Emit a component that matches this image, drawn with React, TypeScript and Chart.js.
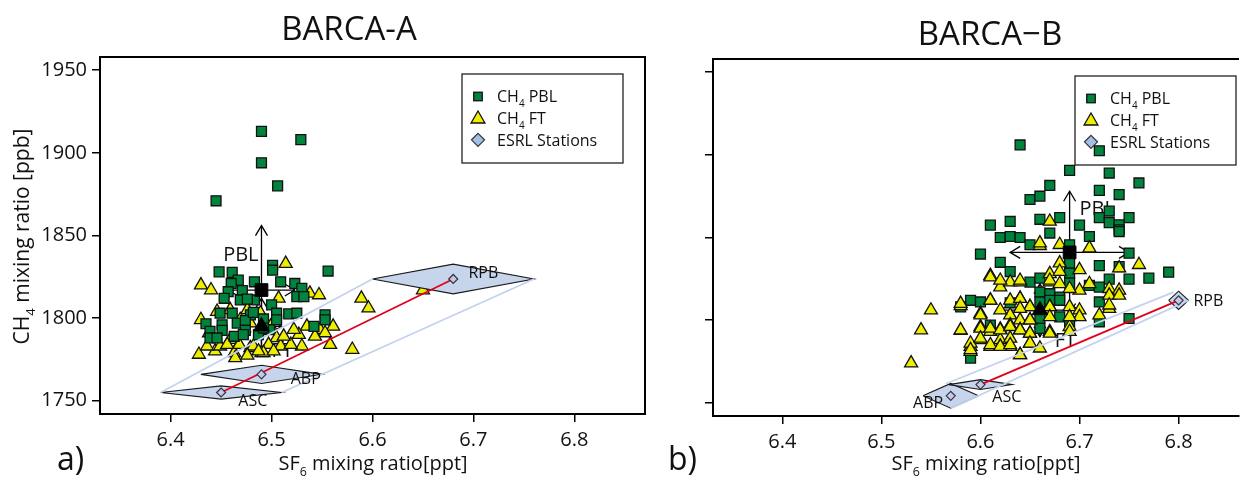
import React, { useEffect, useRef } from 'react';
import { Chart, registerables } from 'chart.js';

Chart.register(...registerables);

const FONT = '"Open Sans", "DejaVu Sans", sans-serif';
const GREEN = '#00833d';
const YELLOW = '#eeee00';
const STATION_FILL = '#c6d4ec';
const ENVELOPE = '#c3d2ee';
const RED = '#e2001a';
const PAGE_H = 478;

// ---- axes ----
const xTicks = [6.4, 6.5, 6.6, 6.7, 6.8];
const yTicks = [1750, 1800, 1850, 1900, 1950];
const X_MIN = 6.33;
const Y_MIN = 1742;
const Y_MAX = 1958;

const stationNames = ['ASC', 'ABP', 'RPB'];

// ---- BARCA-A : [SF6 ppt, CH4 ppb] ----
const pblA: number[][] = [
  [6.445, 1871], [6.49, 1913], [6.49, 1894], [6.506, 1880], [6.529, 1908],
  [6.448, 1828], [6.461, 1827.7], [6.501, 1832], [6.501, 1829], [6.556, 1828.5],
  [6.467, 1823], [6.46, 1821], [6.483, 1822], [6.509, 1822], [6.523, 1821], [6.53, 1818],
  [6.457, 1816], [6.471, 1816.7], [6.453, 1812], [6.469, 1811], [6.483, 1811], [6.5, 1808], [6.525, 1813], [6.532, 1813],
  [6.449, 1803], [6.461, 1803], [6.479, 1802], [6.505, 1803], [6.517, 1802.6], [6.525, 1803], [6.553, 1802],
  [6.435, 1796.6], [6.451, 1796], [6.466, 1797], [6.474, 1798.6], [6.505, 1799], [6.553, 1799], [6.542, 1795],
  [6.439, 1792], [6.451, 1792.6], [6.474, 1792.6], [6.439, 1788], [6.446, 1788], [6.463, 1789], [6.487, 1790],
  [6.498, 1793], [6.476, 1811.5], [6.482, 1803.5], [6.492, 1799.5], [6.472, 1790], [6.492, 1794],
];
const ftA: number[][] = [
  [6.514, 1833], [6.43, 1820], [6.44, 1817], [6.538, 1815], [6.547, 1814], [6.507, 1812], [6.589, 1812],
  [6.596, 1806], [6.459, 1805], [6.476, 1805], [6.43, 1799], [6.535, 1795], [6.561, 1795], [6.548, 1793],
  [6.553, 1791], [6.438, 1791], [6.505, 1788], [6.527, 1790], [6.459, 1787], [6.543, 1789], [6.558, 1784],
  [6.53, 1783], [6.58, 1781], [6.428, 1778], [6.444, 1780], [6.463, 1779], [6.49, 1779], [6.479, 1782],
  [6.509, 1783], [6.519, 1784], [6.449, 1783], [6.468, 1784], [6.497, 1784], [6.464, 1776], [6.65, 1817],
  [6.446, 1804], [6.469, 1799], [6.479, 1797], [6.489, 1803], [6.499, 1795], [6.512, 1789], [6.522, 1793],
  [6.436, 1783], [6.456, 1784], [6.482, 1783], [6.492, 1779], [6.502, 1780], [6.476, 1777.5], [6.487, 1780],
];
const stationA_sf6 = [6.45, 6.49, 6.68];
const stationA_ch4 = [1755, 1766, 1823.7];
const stationA_dsf6 = [0.06, 0.06, 0.08];
const stationA_dch4 = [4, 5.5, 9];
const stationA_label = [[6.467, 1747], [6.519, 1760], [6.695, 1824.3]];
const envelopeA = [
  [[6.39, 1755], [6.6, 1823.7]],
  [[6.51, 1755], [6.76, 1823.7]],
];
const meanA = [[6.49, 1817], [6.49, 1795]]; // PBL, FT
const meanA_dsf6 = [0.033, 0.02];
const meanA_dch4 = [39, 17];
const groupLabelA = [[6.452, 1834.3], [6.5, 1776.3]]; // PBL, FT

// ---- BARCA-B ----
const pblB: number[][] = [
  [6.64, 1906], [6.72, 1902.5], [6.69, 1890.6], [6.73, 1889], [6.76, 1883], [6.67, 1881.5], [6.72, 1878.5],
  [6.74, 1876], [6.65, 1873], [6.66, 1875], [6.73, 1866], [6.75, 1862], [6.72, 1862], [6.73, 1859],
  [6.74, 1857.7], [6.74, 1854.7], [6.66, 1861], [6.68, 1862], [6.7, 1857.5], [6.61, 1857.5], [6.63, 1859.7],
  [6.67, 1852.7], [6.62, 1850], [6.63, 1850.6], [6.64, 1850], [6.71, 1850.6], [6.74, 1853.6], [6.65, 1845.6],
  [6.69, 1845.6], [6.75, 1840.5], [6.6, 1840], [6.62, 1835], [6.63, 1829.4], [6.69, 1834.5], [6.72, 1833],
  [6.74, 1832.4], [6.79, 1829], [6.77, 1825.4], [6.75, 1824.8], [6.73, 1824.8], [6.65, 1823], [6.66, 1825.4],
  [6.69, 1828.4], [6.69, 1822.4], [6.71, 1821], [6.72, 1820], [6.66, 1817], [6.67, 1816], [6.68, 1814],
  [6.66, 1811], [6.59, 1812], [6.6, 1811], [6.58, 1808], [6.63, 1810.5], [6.67, 1812], [6.68, 1812],
  [6.72, 1811], [6.68, 1802], [6.66, 1801], [6.66, 1795], [6.75, 1801], [6.72, 1799], [6.59, 1777],
  [6.69, 1799], [6.61, 1797],
];
const ftB: number[][] = [
  [6.67, 1859.7], [6.55, 1806], [6.54, 1794], [6.53, 1774], [6.58, 1793.6], [6.58, 1808.6], [6.59, 1784],
  [6.59, 1781], [6.6, 1788], [6.6, 1796], [6.61, 1827], [6.62, 1820], [6.61, 1812], [6.6, 1804], [6.61, 1793],
  [6.61, 1784], [6.62, 1794.5], [6.62, 1788], [6.62, 1784], [6.63, 1823], [6.63, 1803], [6.63, 1797],
  [6.63, 1789], [6.63, 1784], [6.64, 1823], [6.64, 1813], [6.64, 1800], [6.64, 1794], [6.64, 1779],
  [6.65, 1808], [6.65, 1800], [6.65, 1792], [6.65, 1786], [6.66, 1845], [6.67, 1828], [6.67, 1823],
  [6.67, 1808], [6.67, 1793], [6.66, 1846.6], [6.68, 1845.6], [6.71, 1843.6], [6.76, 1833.5], [6.74, 1831.5],
  [6.68, 1834.5], [6.7, 1830.4], [6.68, 1829.4], [6.61, 1826], [6.62, 1824], [6.64, 1824], [6.67, 1824],
  [6.68, 1822], [6.71, 1822], [6.73, 1819], [6.74, 1818], [6.73, 1815], [6.74, 1815], [6.7, 1818],
  [6.69, 1819], [6.61, 1812], [6.63, 1812], [6.64, 1813], [6.65, 1808], [6.67, 1808], [6.69, 1808],
  [6.7, 1806], [6.73, 1807], [6.58, 1794], [6.58, 1810], [6.6, 1803], [6.62, 1806], [6.64, 1807],
  [6.6, 1795], [6.61, 1795], [6.62, 1794], [6.63, 1796], [6.64, 1794], [6.65, 1800], [6.65, 1792],
  [6.67, 1792], [6.69, 1796], [6.69, 1793], [6.67, 1802], [6.7, 1802], [6.72, 1803], [6.73, 1809],
  [6.59, 1786], [6.59, 1782], [6.6, 1789], [6.61, 1785], [6.62, 1784], [6.63, 1785], [6.65, 1786],
  [6.64, 1779], [6.66, 1783], [6.69, 1802],
];
const stationB_sf6 = [6.6, 6.57, 6.8];
const stationB_ch4 = [1761, 1754.2, 1812];
const stationB_dsf6 = [0.032, 0.028, 0.01];
const stationB_dch4 = [3, 7.5, 5.5];
const stationB_label = [[6.612, 1750.6], [6.532, 1746.6], [6.815, 1808.6]];
const envelopeB = [
  [[6.565, 1761.5], [6.795, 1817]],
  [[6.57, 1746.7], [6.81, 1812]],
];
const meanB = [[6.69, 1841], [6.66, 1806]];
const meanB_dsf6 = [0.06, 0.04];
const meanB_dch4 = [37, 16];
const groupLabelB = [[6.7, 1863.8], [6.675, 1784]];

type Part = [string, boolean?];

function drawRich(ctx: CanvasRenderingContext2D, parts: Part[], x: number, y: number, size: number, align: 'left' | 'center') {
  const sub = size * 0.62;
  let total = 0;
  const widths = parts.map(([t, s]) => {
    ctx.font = `${s ? sub : size}px ${FONT}`;
    const w = ctx.measureText(t).width;
    total += w;
    return w;
  });
  let cx = align === 'center' ? x - total / 2 : x;
  ctx.textAlign = 'left';
  ctx.textBaseline = 'alphabetic';
  parts.forEach(([t, s], i) => {
    ctx.font = `${s ? sub : size}px ${FONT}`;
    ctx.fillText(t, cx, s ? y + size * 0.3 : y);
    cx += widths[i];
  });
}

function arrowHead(ctx: CanvasRenderingContext2D, x: number, y: number, dir: string, len = 10, half = 6) {
  ctx.beginPath();
  if (dir === 'up') { ctx.moveTo(x - half, y + len); ctx.lineTo(x, y); ctx.lineTo(x + half, y + len); }
  if (dir === 'down') { ctx.moveTo(x - half, y - len); ctx.lineTo(x, y); ctx.lineTo(x + half, y - len); }
  if (dir === 'left') { ctx.moveTo(x + len, y - half); ctx.lineTo(x, y); ctx.lineTo(x + len, y + half); }
  if (dir === 'right') { ctx.moveTo(x - len, y - half); ctx.lineTo(x, y); ctx.lineTo(x - len, y + half); }
  ctx.stroke();
}

function legendSquare(ctx: CanvasRenderingContext2D, x: number, y: number, s: number) {
  ctx.fillStyle = GREEN; ctx.fillRect(x - s / 2, y - s / 2, s, s);
  ctx.strokeStyle = '#111'; ctx.lineWidth = 1.3; ctx.strokeRect(x - s / 2, y - s / 2, s, s);
}
function legendTriangle(ctx: CanvasRenderingContext2D, x: number, y: number, r: number) {
  ctx.beginPath();
  ctx.moveTo(x, y - r); ctx.lineTo(x + r * 0.866, y + r / 2); ctx.lineTo(x - r * 0.866, y + r / 2); ctx.closePath();
  ctx.fillStyle = YELLOW; ctx.fill(); ctx.strokeStyle = '#111'; ctx.lineWidth = 1.3; ctx.stroke();
}
function legendDiamond(ctx: CanvasRenderingContext2D, x: number, y: number, r: number) {
  ctx.beginPath();
  ctx.moveTo(x, y - r); ctx.lineTo(x + r, y); ctx.lineTo(x, y + r); ctx.lineTo(x - r, y); ctx.closePath();
  ctx.fillStyle = '#a3bfe4'; ctx.fill(); ctx.strokeStyle = '#333'; ctx.lineWidth = 1.2; ctx.stroke();
}

interface PanelSpec {
  id: string;
  left: number;
  width: number;
  area: { left: number; top: number; right: number; bottom: number };
  xMax: number;
  yLabels: boolean;
  rightBorder: boolean;
  title: string; titleX: number; titleY: number;
  letter: string; letterX: number;
  xTitleX: number;
  yTitle: boolean;
  pbl: number[][]; ft: number[][];
  stSf6: number[]; stCh4: number[]; stDsf6: number[]; stDch4: number[]; stLabel: number[][];
  envelopes: number[][][];
  means: number[][]; meanDsf6: number[]; meanDch4: number[]; groupLabels: number[][];
  squaresOnTop: boolean;
}

const panelA: PanelSpec = {
  id: 'A', left: 0, width: 660,
  area: { left: 100, top: 57, right: 645, bottom: 414 },
  xMax: 6.87, yLabels: true, rightBorder: true,
  title: 'BARCA-A', titleX: 349, titleY: 40,
  letter: 'a)', letterX: 57, xTitleX: 373, yTitle: true,
  pbl: pblA, ft: ftA,
  stSf6: stationA_sf6, stCh4: stationA_ch4, stDsf6: stationA_dsf6, stDch4: stationA_dch4, stLabel: stationA_label,
  envelopes: envelopeA, means: meanA, meanDsf6: meanA_dsf6, meanDch4: meanA_dch4, groupLabels: groupLabelA,
  squaresOnTop: true,
};
const panelB: PanelSpec = {
  id: 'B', left: 660, width: 589,
  area: { left: 53, top: 59, right: 589, bottom: 416 },
  xMax: 6.861, yLabels: false, rightBorder: false,
  title: 'BARCA\u2212B', titleX: 330, titleY: 45,
  letter: 'b)', letterX: 8, xTitleX: 326, yTitle: false,
  pbl: pblB, ft: ftB,
  stSf6: stationB_sf6, stCh4: stationB_ch4, stDsf6: stationB_dsf6, stDch4: stationB_dch4, stLabel: stationB_label,
  envelopes: envelopeB, means: meanB, meanDsf6: meanB_dsf6, meanDch4: meanB_dch4, groupLabels: groupLabelB,
  squaresOnTop: false,
};

function buildConfig(p: PanelSpec): any {
  const toPts = (arr: number[][]) => arr.map(([x, y]) => ({ x, y }));
  const datasets: any[] = [];
  datasets.push({
    type: 'scatter', label: 'ESRL Stations',
    data: p.stSf6.map((x, i) => ({ x, y: p.stCh4[i] })),
    pointStyle: 'rectRot', pointRadius: 4.5, backgroundColor: '#c9c6e6', borderColor: '#333344', borderWidth: 1.2, order: 0,
  });
  datasets.push({
    type: 'line', data: [{ x: p.stSf6[0], y: p.stCh4[0] }, { x: p.stSf6[2], y: p.stCh4[2] }],
    borderColor: RED, borderWidth: 1.8, pointRadius: 0, fill: false, order: 1,
  });
  p.envelopes.forEach((env) => datasets.push({
    type: 'line', data: toPts(env), borderColor: ENVELOPE, borderWidth: 1.8, pointRadius: 0, fill: false, order: 2,
  }));
  p.stSf6.forEach((x, i) => {
    const y = p.stCh4[i], dx = p.stDsf6[i], dy = p.stDch4[i];
    datasets.push({
      type: 'line', label: stationNames[i],
      data: [{ x: x - dx, y }, { x, y: y + dy }, { x: x + dx, y }, { x, y: y - dy }, { x: x - dx, y }],
      borderColor: '#1a1a1a', borderWidth: 1.1, backgroundColor: STATION_FILL, fill: 'shape',
      pointRadius: 0, tension: 0, order: 3,
    });
  });
  datasets.push({
    type: 'scatter', data: [{ x: p.means[0][0], y: p.means[0][1] }],
    pointStyle: 'rect', pointRadius: 9, backgroundColor: '#000', borderColor: '#000', borderWidth: 1, order: 4,
  });
  datasets.push({
    type: 'scatter', data: [{ x: p.means[1][0], y: p.means[1][1] }],
    pointStyle: 'triangle', pointRadius: 9, backgroundColor: '#000', borderColor: '#000', borderWidth: 1, order: 4,
  });
  datasets.push({
    type: 'scatter', label: 'CH4 PBL', data: toPts(p.pbl),
    pointStyle: 'rect', pointRadius: 7, backgroundColor: GREEN, borderColor: '#111', borderWidth: 1.3,
    order: p.squaresOnTop ? 5 : 6,
  });
  datasets.push({
    type: 'scatter', label: 'CH4 FT', data: toPts(p.ft),
    pointStyle: 'triangle', pointRadius: 7.5, backgroundColor: YELLOW, borderColor: '#111', borderWidth: 1.3,
    order: p.squaresOnTop ? 6 : 5,
  });

  const plugin = {
    id: 'decor' + p.id,
    beforeDatasetsDraw(chart: any) {
      const ctx: CanvasRenderingContext2D = chart.ctx;
      const xs = chart.scales.x, ys = chart.scales.y, ca = chart.chartArea;
      ctx.save();
      // legend
      const bx = ca.left + 362, by = ca.top + 17, bw = 161, bh = 89;
      ctx.fillStyle = '#fff'; ctx.fillRect(bx, by, bw, bh);
      ctx.strokeStyle = '#222'; ctx.lineWidth = 1.3; ctx.strokeRect(bx, by, bw, bh);
      const rows = [22.5, 44, 65.8];
      legendSquare(ctx, bx + 16, by + rows[0], 8.5);
      legendTriangle(ctx, bx + 16, by + rows[1] + 1, 8);
      legendDiamond(ctx, bx + 16, by + rows[2], 6.5);
      ctx.fillStyle = '#111';
      drawRich(ctx, [['CH'], ['4', true], [' PBL']], bx + 35, by + rows[0] + 5.8, 16, 'left');
      drawRich(ctx, [['CH'], ['4', true], [' FT']], bx + 35, by + rows[1] + 5.8, 16, 'left');
      drawRich(ctx, [['ESRL Stations']], bx + 35, by + rows[2] + 5.8, 16, 'left');
      // group labels (under the points)
      ctx.fillStyle = '#111';
      drawRich(ctx, [['PBL']], xs.getPixelForValue(p.groupLabels[0][0]), ys.getPixelForValue(p.groupLabels[0][1]), 20, 'left');
      drawRich(ctx, [['FT']], xs.getPixelForValue(p.groupLabels[1][0]), ys.getPixelForValue(p.groupLabels[1][1]), 20, 'left');
      // error arrows
      ctx.strokeStyle = '#000'; ctx.lineWidth = 1.3;
      p.means.forEach(([mx, my], i) => {
        const cx = xs.getPixelForValue(mx), cy = ys.getPixelForValue(my);
        const x0 = xs.getPixelForValue(mx - p.meanDsf6[i]), x1 = xs.getPixelForValue(mx + p.meanDsf6[i]);
        const y0 = ys.getPixelForValue(my - p.meanDch4[i]), y1 = ys.getPixelForValue(my + p.meanDch4[i]);
        ctx.beginPath(); ctx.moveTo(x0, cy); ctx.lineTo(x1, cy); ctx.moveTo(cx, y0); ctx.lineTo(cx, y1); ctx.stroke();
        arrowHead(ctx, x0, cy, 'left'); arrowHead(ctx, x1, cy, 'right');
        arrowHead(ctx, cx, y1, 'up'); arrowHead(ctx, cx, y0, 'down');
      });
      ctx.restore();
    },
    afterDatasetsDraw(chart: any) {
      const ctx: CanvasRenderingContext2D = chart.ctx;
      const xs = chart.scales.x, ys = chart.scales.y, ca = chart.chartArea;
      ctx.save();
      ctx.fillStyle = '#111';
      stationNames.forEach((n, i) => {
        drawRich(ctx, [[n]], xs.getPixelForValue(p.stLabel[i][0]), ys.getPixelForValue(p.stLabel[i][1]), 16, 'left');
      });
      ctx.strokeStyle = '#000'; ctx.lineWidth = 2;
      ctx.beginPath();
      ctx.moveTo(ca.left - 1, ca.top); ctx.lineTo(ca.right, ca.top);
      if (p.rightBorder) ctx.lineTo(ca.right, ca.bottom + 1);
      ctx.stroke();
      ctx.restore();
    },
    afterDraw(chart: any) {
      const ctx: CanvasRenderingContext2D = chart.ctx;
      const ca = chart.chartArea;
      ctx.save();
      ctx.fillStyle = '#111';
      drawRich(ctx, [[p.title]], p.titleX, p.titleY, 33, 'center');
      drawRich(ctx, [[p.letter]], p.letterX, 470, 32, 'left');
      drawRich(ctx, [['SF'], ['6', true], [' mixing ratio[ppt]']], p.xTitleX, 470, 20, 'left' === 'left' ? 'center' : 'center');
      if (p.yTitle) {
        ctx.translate(29, (ca.top + ca.bottom) / 2 + 1);
        ctx.rotate(-Math.PI / 2);
        drawRich(ctx, [['CH'], ['4', true], [' mixing ratio [ppb]']], 0, 0, 21, 'center');
      }
      ctx.restore();
    },
  };

  return {
    type: 'scatter',
    data: { datasets },
    options: {
      animation: false,
      responsive: false,
      events: [],
      layout: { padding: { left: 0, top: p.area.top, right: p.width - p.area.right, bottom: 0 } },
      plugins: { legend: { display: false }, tooltip: { enabled: false }, title: { display: false } },
      scales: {
        x: {
          type: 'linear', min: X_MIN, max: p.xMax,
          afterBuildTicks: (s: any) => { s.ticks = xTicks.map((v) => ({ value: v })); },
          afterFit: (s: any) => { s.height = PAGE_H - p.area.bottom; },
          grid: { drawOnChartArea: false, drawTicks: true, tickLength: 8, color: '#000', lineWidth: 1.5 },
          border: { display: true, color: '#000', width: 2 },
          ticks: {
            color: '#111', font: { family: FONT, size: 20 }, padding: 6, maxRotation: 0, autoSkip: false,
            callback: (v: any) => Number(v).toFixed(1),
          },
        },
        y: {
          type: 'linear', min: Y_MIN, max: Y_MAX,
          afterBuildTicks: (s: any) => { s.ticks = yTicks.map((v) => ({ value: v })); },
          afterFit: (s: any) => { s.width = p.area.left; },
          grid: { drawOnChartArea: false, drawTicks: true, tickLength: 8, color: '#000', lineWidth: 1.5 },
          border: { display: true, color: '#000', width: 2 },
          ticks: {
            color: '#111', font: { family: FONT, size: 20 }, padding: 5, autoSkip: false,
            callback: (v: any) => (p.yLabels ? String(v) : ''),
          },
        },
      },
    },
    plugins: [plugin],
  };
}

function PanelChart({ p }: { p: PanelSpec }) {
  const ref = useRef<HTMLCanvasElement>(null);
  useEffect(() => {
    const chart = new Chart(ref.current as HTMLCanvasElement, buildConfig(p));
    return () => chart.destroy();
  }, [p]);
  return (
    <canvas
      ref={ref}
      width={p.width}
      height={PAGE_H}
      style={{ position: 'absolute', left: p.left, top: 0, width: p.width, height: PAGE_H }}
    />
  );
}

export default function App() {
  return (
    <div style={{ position: 'fixed', left: 0, top: 0, width: 1249, height: PAGE_H, background: '#fff', overflow: 'hidden' }}>
      <PanelChart p={panelA} />
      <PanelChart p={panelB} />
    </div>
  );
}
